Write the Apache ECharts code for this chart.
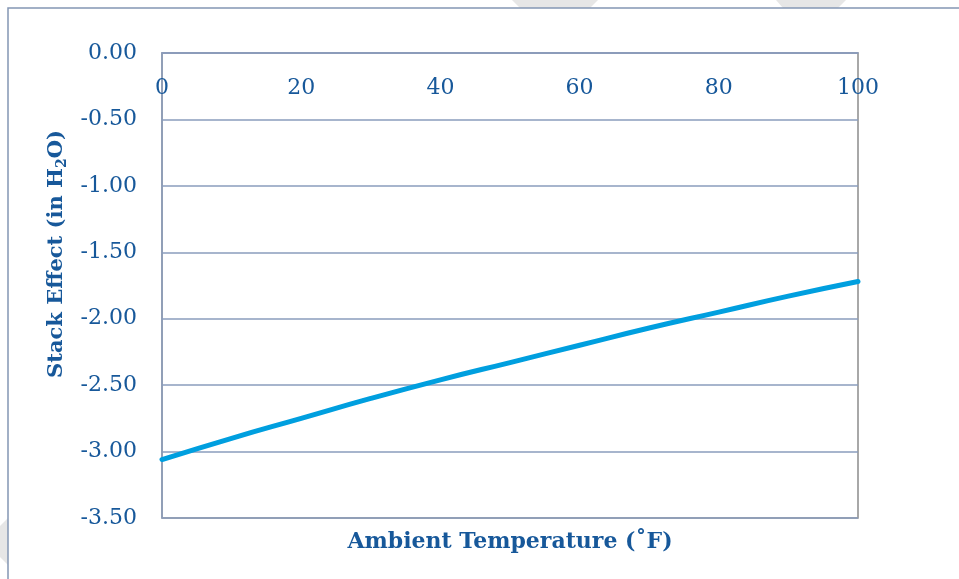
<!DOCTYPE html>
<html>
<head>
<meta charset="utf-8">
<title>Stack Effect vs Ambient Temperature</title>
<script src="https://cdn.jsdelivr.net/npm/echarts@6/dist/echarts.min.js"></script>
<style>
  html, body { margin: 0; padding: 0; background: #ffffff; }
  #chart { width: 959px; height: 579px; }
</style>
</head>
<body>
<div id="chart"></div>
<script>
// Ambient temperature (°F) and the resulting stack effect (in H2O)
const temperatures = [0, 10, 20, 30, 40, 50, 60, 70, 80, 90, 100];
const stackEffect = [-3.06, -2.90, -2.75, -2.60, -2.46, -2.33, -2.20, -2.07, -1.95, -1.83, -1.72];
const xTicks = [0, 20, 40, 60, 80, 100];
const yTicks = [0, -0.5, -1, -1.5, -2, -2.5, -3, -3.5];

const textBlue = '#17589a';
const gridBlue = '#8a9cbc';
const borderGray = '#8c8c8c';
const serif = '"DejaVu Serif", "Liberation Serif", serif';

const chart = echarts.init(document.getElementById('chart'), null, { renderer: 'canvas' });

chart.setOption({
  animation: false,
  backgroundColor: '#ffffff',
  grid: {
    left: 162, top: 53, right: 101, bottom: 61,
    show: true, borderColor: borderGray, borderWidth: 1.5,
    backgroundColor: 'transparent'
  },
  xAxis: {
    type: 'value',
    position: 'top',
    min: xTicks[0],
    max: xTicks[xTicks.length - 1],
    interval: xTicks[1] - xTicks[0],
    axisLine: { show: true, lineStyle: { color: gridBlue, width: 1.5 } },
    axisTick: { show: false },
    splitLine: { show: false },
    axisLabel: {
      inside: true,
      margin: 24,
      color: textBlue,
      fontFamily: serif,
      fontSize: 22
    }
  },
  yAxis: {
    type: 'value',
    min: yTicks[yTicks.length - 1],
    max: yTicks[0],
    interval: 0.5,
    axisLine: { show: true, lineStyle: { color: gridBlue, width: 1.5 } },
    axisTick: { show: false },
    splitLine: { show: true, lineStyle: { color: gridBlue, width: 1.5 } },
    axisLabel: {
      margin: 25,
      color: textBlue,
      fontFamily: serif,
      fontSize: 22,
      padding: [3, 0, 0, 0],
      formatter: v => v.toFixed(2)
    }
  },
  series: [{
    type: 'line',
    data: temperatures.map((t, i) => [t, stackEffect[i]]),
    smooth: true,
    symbol: 'none',
    lineStyle: { color: '#009fdf', width: 5, cap: 'round' },
    z: 5
  }],
  graphic: [
    // faint hatched shapes peeking in from behind the chart frame
    { type: 'polygon', z: -10, shape: { points: [[512, 0], [598, 0], [590, 8], [520, 8]] },
      style: { fill: '#e6e6e6' } },
    { type: 'polygon', z: -10, shape: { points: [[776, 0], [846, 0], [838, 8], [783, 8]] },
      style: { fill: '#e6e6e6' } },
    { type: 'polygon', z: -10, shape: { points: [[8, 518], [8, 565], [0, 557], [0, 526]] },
      style: { fill: '#e6e6e6' } },
    // outer chart frame
    { type: 'rect', z: -5, shape: { x: 8, y: 8, width: 1200, height: 1200 },
      style: { fill: '#ffffff', stroke: '#8496b4', lineWidth: 1.5 } },
    // y-axis title with subscript
    {
      type: 'text',
      x: 57, y: 254,
      rotation: Math.PI / 2,
      style: {
        text: '{t|Stack Effect (in H}{s|2}{t|O)}',
        align: 'center',
        verticalAlign: 'middle',
        rich: {
          t: { fontFamily: serif, fontSize: 21, fontWeight: 'bold', fill: textBlue },
          s: { fontFamily: serif, fontSize: 14, fontWeight: 'bold', fill: textBlue, padding: [11, 0, 0, 0] }
        }
      }
    },
    // x-axis title below the plot
    {
      type: 'text',
      x: 510, y: 542,
      style: {
        text: 'Ambient Temperature (\u02DAF)',
        align: 'center',
        verticalAlign: 'middle',
        fontFamily: serif,
        fontSize: 22,
        fontWeight: 'bold',
        fill: textBlue
      }
    }
  ]
});
</script>
</body>
</html>
